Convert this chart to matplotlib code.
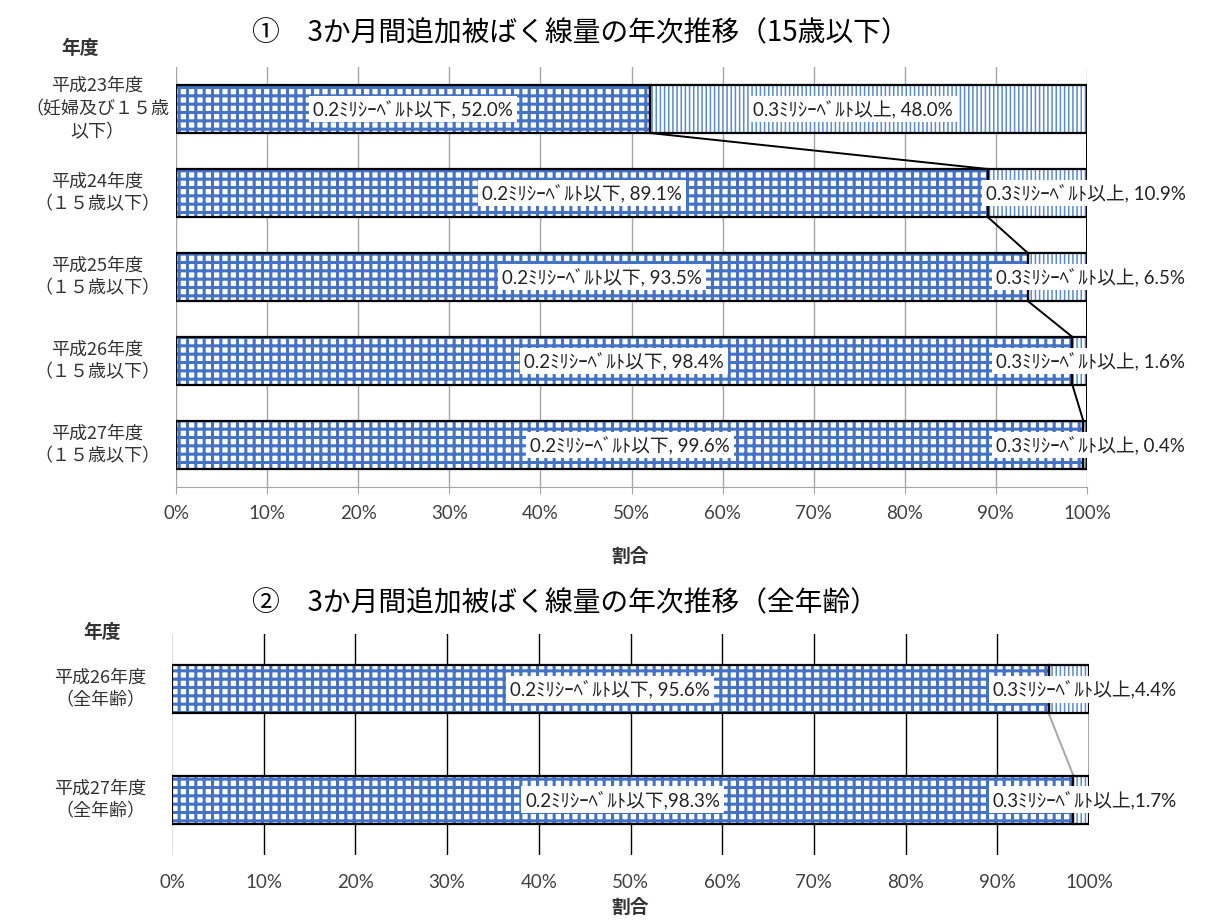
import matplotlib
matplotlib.use('Agg')
import matplotlib.pyplot as plt
from matplotlib.transforms import blended_transform_factory as btf

plt.rcParams['font.family'] = ['Noto Sans CJK JP', 'DejaVu Sans']

# ---------------- data ----------------
title1 = '①　3か月間追加被ばく線量の年次推移（15歳以下）'
title2 = '②　3か月間追加被ばく線量の年次推移（全年齢）'
cats1 = ['平成23年度\n（妊婦及び１５歳\n以下）', '平成24年度\n（１５歳以下）',
         '平成25年度\n（１５歳以下）', '平成26年度\n（１５歳以下）',
         '平成27年度\n（１５歳以下）']
low1 = [52.0, 89.1, 93.5, 98.4, 99.6]
high1 = [48.0, 10.9, 6.5, 1.6, 0.4]

cats2 = ['平成26年度\n（全年齢）', '平成27年度\n（全年齢）']
low2 = [95.6, 98.3]
high2 = [4.4, 1.7]

series_names = ['0.2ﾐﾘｼｰﾍﾞﾙﾄ以下', '0.3ﾐﾘｼｰﾍﾞﾙﾄ以上']
seps1_low = [', '] * 5
seps1_high = [', '] * 5
seps2_low = [', ', ',']
seps2_high = [',', ',']

xticks = [0, 10, 20, 30, 40, 50, 60, 70, 80, 90, 100]
xticklabels = [f'{t}%' for t in xticks]
ylabel_head = '年度'
xlabel = '割合'

# ---------------- style ----------------
W, H = 1214, 921
BLUE = '#4472C4'
BLUE2 = '#5B8BD0'
LBL_FONT = ['Lato', 'Noto Sans CJK JP']

fig = plt.figure(figsize=(W / 100, H / 100), dpi=100)


def fx(px):
    return px / W


def fy(py):
    return 1 - py / H


def draw_bars(ax, low, high, h):
    y = list(range(len(low)))
    with plt.rc_context({'hatch.linewidth': 2.2}):
        ax.barh(y, low, height=h, color='white', edgecolor=BLUE, hatch='++',
                linewidth=0, zorder=2)
    with plt.rc_context({'hatch.linewidth': 1.1}):
        ax.barh(y, high, left=low, height=h, color='white', edgecolor=BLUE2,
                hatch='||||', linewidth=0, zorder=2)
    ax.barh(y, low, height=h, fill=False, edgecolor='black', linewidth=1.6, zorder=3)
    ax.barh(y, high, left=low, height=h, fill=False, edgecolor='black',
            linewidth=1.6, zorder=3)


def series_lines(ax, low, h, color, lw):
    for i in range(len(low) - 1):
        ax.plot([low[i], low[i + 1]], [i + h / 2, i + 1 - h / 2], color=color,
                lw=lw, zorder=2.5, solid_capstyle='butt')
        ax.plot([100, 100], [i + h / 2, i + 1 - h / 2], color=color, lw=lw,
                zorder=2.5)


def label(ax, x, y, s, ha='center'):
    ax.text(x, y, s, ha=ha, va='center', fontsize=13.5, family=LBL_FONT,
            color='#222222', zorder=5,
            bbox=dict(facecolor='white', edgecolor='none', pad=3))


def common_axes(ax, n):
    ax.set_xlim(0, 100)
    ax.set_ylim(n - 0.5, -0.5)
    ax.set_yticks([])
    ax.set_xticks(xticks)
    ax.set_xticklabels(xticklabels, family=['Lato', 'DejaVu Sans'],
                       fontsize=13.5, color='#404040')
    for s in ['top', 'right', 'left']:
        ax.spines[s].set_visible(False)


# ---------------- chart 1 ----------------
ax1 = fig.add_axes([fx(176), fy(487), fx(1087) - fx(176), fy(67) - fy(487)])
common_axes(ax1, len(cats1))
h1 = 48 / 84
for t in xticks:
    ax1.axvline(t, color='#A6A6A6', lw=1.0, zorder=1)
ax1.spines['bottom'].set_color('#A6A6A6')
ax1.tick_params(axis='x', length=5, color='#A6A6A6', pad=8)
draw_bars(ax1, low1, high1, h1)
series_lines(ax1, low1, h1, 'black', 1.4)
for i in range(len(cats1)):
    label(ax1, low1[i] / 2, i, f'{series_names[0]}{seps1_low[i]}{low1[i]:.1f}%')
label(ax1, 74.3, 0, f'{series_names[1]}{seps1_high[0]}{high1[0]:.1f}%')
label(ax1, 88.9, 1, f'{series_names[1]}{seps1_high[1]}{high1[1]:.1f}%', ha='left')
for i in range(2, len(cats1)):
    label(ax1, 90.0, i, f'{series_names[1]}{seps1_high[i]}{high1[i]:.1f}%', ha='left')
tr1 = btf(fig.transFigure, ax1.transData)
for i, c in enumerate(cats1):
    ax1.text(fx(97), i, c, transform=tr1, ha='center', va='center',
             multialignment='center', fontsize=13, linespacing=1.35,
             color='#333333')

fig.text(fx(580), fy(33), title1, ha='center', va='center', fontsize=20,
         color='black')
fig.text(fx(80), fy(48), ylabel_head, ha='center', va='center', fontsize=13.5,
         weight='bold', color='#333333')
fig.text(fx(630), fy(556), xlabel, ha='center', va='center', fontsize=13.5,
         weight='bold', color='#333333')

# ---------------- chart 2 ----------------
ax2 = fig.add_axes([fx(172), fy(855), fx(1089) - fx(172), fy(634) - fy(855)])
common_axes(ax2, len(cats2))
h2 = 48 / 110
ax2.axvline(0, color='#D9D9D9', lw=1.2, zorder=1)
for t in xticks[1:-1]:
    ax2.axvline(t, color='black', lw=1.0, zorder=1)
ax2.spines['bottom'].set_visible(False)
ax2.tick_params(axis='x', length=0, pad=14)
draw_bars(ax2, low2, high2, h2)
series_lines(ax2, low2, h2, '#A6A6A6', 1.4)
for i in range(len(cats2)):
    label(ax2, low2[i] / 2, i, f'{series_names[0]}{seps2_low[i]}{low2[i]:.1f}%')
    label(ax2, 89.5, i, f'{series_names[1]}{seps2_high[i]}{high2[i]:.1f}%', ha='left')
tr2 = btf(fig.transFigure, ax2.transData)
for i, c in enumerate(cats2):
    ax2.text(fx(100), i, c, transform=tr2, ha='center', va='center',
             multialignment='center', fontsize=13, linespacing=1.35,
             color='#333333')

fig.text(fx(565), fy(603), title2, ha='center', va='center', fontsize=20,
         color='black')
fig.text(fx(102), fy(632), ylabel_head, ha='center', va='center', fontsize=13.5,
         weight='bold', color='#333333')
fig.text(fx(630), fy(907), xlabel, ha='center', va='center', fontsize=13.5,
         weight='bold', color='#333333')

fig.savefig('out.png', dpi=100)
